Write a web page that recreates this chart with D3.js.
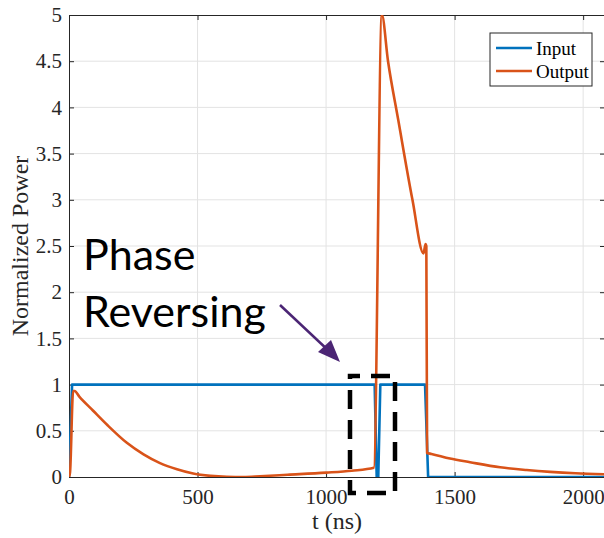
<!DOCTYPE html>
<html>
<head>
<meta charset="utf-8">
<script src="https://cdn.jsdelivr.net/npm/d3@7"></script>
<style>
  body { margin: 0; background: #fff; }
  svg { display: block; }
</style>
</head>
<body>
<script>
// Input pulse (time in ns, normalized power)
var inputT = [0, 12, 1189, 1197, 1203, 1211, 1385, 1397, 2085];
var inputV = [0, 1, 1, 0, 0, 1, 1, 0, 0];

// Output response
var outputT = [0, 4, 16, 22, 40, 93, 150, 225, 290, 354, 420, 483, 550, 614, 680, 743, 850, 1000, 1100, 1186,
               1217, 1241, 1281, 1336, 1379, 1387, 1390, 1393, 1410, 1482, 1560, 1677, 1780, 1872, 1970, 2085];
var outputV = [0, 0.05, 0.93, 0.93, 0.87, 0.72, 0.56, 0.37, 0.245, 0.15, 0.083, 0.037, 0.012, 0.002, 0, 0.008, 0.024, 0.047, 0.068, 0.10,
               5.0, 4.5, 3.86, 3.0, 2.42, 2.52, 2.5, 0.26, 0.25, 0.20, 0.16, 0.105, 0.075, 0.055, 0.04, 0.03];

var xTicks = [0, 500, 1000, 1500, 2000];
var yTicks = [0, 0.5, 1, 1.5, 2, 2.5, 3, 3.5, 4, 4.5, 5];
var seriesNames = ["Input", "Output"];
var seriesColors = ["#0072BD", "#D95319"];

var drawChart = function() {
  var w = 604, h = 538;
  var pLeft = 69, pRight = 605, pTop = 15, pBottom = 477;
  var serif = "'Liberation Serif', 'Times New Roman', serif";

  var xScale = d3.scaleLinear().domain([0, 2085]).range([pLeft, pRight]);
  var yScale = d3.scaleLinear().domain([0, 5]).range([pBottom, pTop]);

  var svg = d3.select("body").append("svg")
      .attr("width", w)
      .attr("height", h);

  svg.append("rect").attr("width", w).attr("height", h).attr("fill", "#fff");

  svg.append("defs").append("clipPath").attr("id", "clip")
    .append("rect")
      .attr("x", pLeft).attr("y", pTop)
      .attr("width", pRight - pLeft).attr("height", pBottom - pTop);

  // grid
  svg.append("g")
    .selectAll("line")
    .data(xTicks.slice(1))
    .enter().append("line")
      .attr("x1", d => xScale(d)).attr("x2", d => xScale(d))
      .attr("y1", pTop).attr("y2", pBottom)
      .attr("stroke", "#e3e3e3").attr("stroke-width", 1);
  svg.append("g")
    .selectAll("line")
    .data(yTicks.slice(1, -1))
    .enter().append("line")
      .attr("x1", pLeft).attr("x2", pRight)
      .attr("y1", d => yScale(d)).attr("y2", d => yScale(d))
      .attr("stroke", "#e3e3e3").attr("stroke-width", 1);

  // axes (ticks point inward like matlab)
  var axisColor = "#262626";
  var fmt = d3.format("");
  var xAxis = d3.axisBottom(xScale).tickValues(xTicks).tickFormat(fmt).tickSizeInner(-5).tickSizeOuter(0).tickPadding(12);
  var yAxis = d3.axisLeft(yScale).tickValues(yTicks).tickFormat(fmt).tickSizeInner(-5).tickSizeOuter(0).tickPadding(7);

  var gx = svg.append("g").attr("transform", `translate(0, ${pBottom})`).call(xAxis);
  var gy = svg.append("g").attr("transform", `translate(${pLeft}, 0)`).call(yAxis);
  var gxTop = svg.append("g").attr("transform", `translate(0, ${pTop})`)
      .call(d3.axisTop(xScale).tickValues(xTicks).tickSizeInner(-5).tickSizeOuter(0).tickFormat(""));
  var gyRight = svg.append("g").attr("transform", `translate(${pRight}, 0)`)
      .call(d3.axisRight(yScale).tickValues(yTicks).tickSizeInner(-5).tickSizeOuter(0).tickFormat(""));

  [gx, gy, gxTop, gyRight].forEach(function(g) {
    g.select(".domain").attr("stroke", axisColor);
    g.selectAll(".tick line").attr("stroke", axisColor);
    g.selectAll("text")
      .style("font-family", serif)
      .style("font-size", "21px")
      .attr("fill", axisColor);
  });

  // axis titles
  svg.append("text")
    .attr("x", (pLeft + pRight) / 2)
    .attr("y", 529)
    .attr("text-anchor", "middle")
    .style("font-family", serif)
    .style("font-size", "24px")
    .attr("fill", axisColor)
    .text("t (ns)");
  svg.append("text")
    .attr("transform", `translate(28, ${(pTop + pBottom) / 2}) rotate(-90)`)
    .attr("text-anchor", "middle")
    .style("font-family", serif)
    .style("font-size", "24px")
    .attr("fill", axisColor)
    .text("Normalized Power");

  // lines
  var inputData = inputT.map((t, i) => [t, inputV[i]]);
  var outputData = outputT.map((t, i) => [t, outputV[i]]);

  var lineLin = d3.line().x(d => xScale(d[0])).y(d => yScale(d[1]));
  var lineCurve = d3.line().x(d => xScale(d[0])).y(d => yScale(d[1])).curve(d3.curveMonotoneX);

  var plot = svg.append("g").attr("clip-path", "url(#clip)");
  plot.append("path")
    .datum(inputData)
    .attr("d", lineLin)
    .attr("fill", "none")
    .attr("stroke", seriesColors[0])
    .attr("stroke-width", 2.6)
    .attr("stroke-linejoin", "round");
  plot.append("path")
    .datum(outputData)
    .attr("d", lineCurve)
    .attr("fill", "none")
    .attr("stroke", seriesColors[1])
    .attr("stroke-width", 2.6)
    .attr("stroke-linejoin", "round");

  // legend
  var legend = svg.append("g").attr("transform", "translate(490, 33)");
  legend.append("rect")
    .attr("width", 102).attr("height", 53)
    .attr("fill", "#fff").attr("stroke", axisColor).attr("stroke-width", 1);
  seriesNames.forEach(function(name, i) {
    legend.append("line")
      .attr("x1", 6).attr("x2", 42)
      .attr("y1", 15 + i * 23).attr("y2", 15 + i * 23)
      .attr("stroke", seriesColors[i]).attr("stroke-width", 2.6);
    legend.append("text")
      .attr("x", 46).attr("y", 22 + i * 23)
      .style("font-family", serif)
      .style("font-size", "19px")
      .attr("fill", "#000")
      .text(name);
  });

  // annotation
  svg.append("text")
    .attr("x", 83).attr("y", 270)
    .style("font-family", "Lato, sans-serif")
    .style("font-size", "43px")
    .attr("fill", "#000")
    .text("Phase");
  svg.append("text")
    .attr("x", 83).attr("y", 327)
    .style("font-family", "Lato, sans-serif")
    .style("font-size", "43px")
    .attr("fill", "#000")
    .text("Reversing");

  var arrowColor = "#4b2574";
  svg.append("line")
    .attr("x1", 280).attr("y1", 305)
    .attr("x2", 330).attr("y2", 352)
    .attr("stroke", arrowColor).attr("stroke-width", 2.5);
  svg.append("path")
    .attr("d", "M340,362 L318,352 L331,340 Z")
    .attr("fill", arrowColor);

  svg.append("rect")
    .attr("x", 350).attr("y", 376)
    .attr("width", 45).attr("height", 117)
    .attr("fill", "none")
    .attr("stroke", "#000")
    .attr("stroke-width", 4.5)
    .attr("stroke-dasharray", "19,11")
    .attr("stroke-dashoffset", 9);
};

drawChart();
</script>
</body>
</html>
